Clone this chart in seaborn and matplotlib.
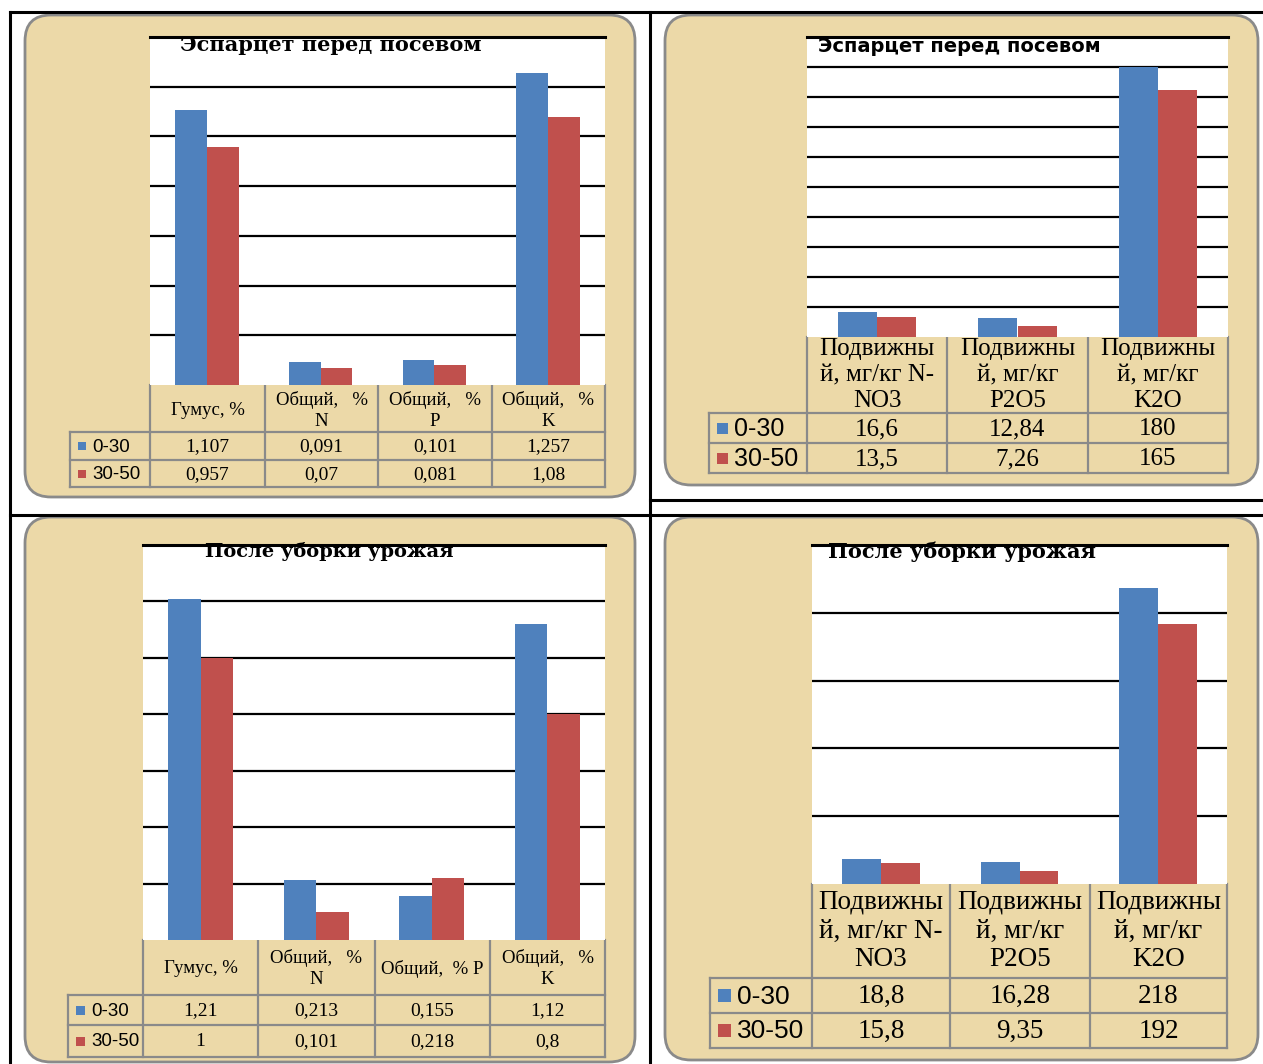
"""
Four Excel-style bar charts with data tables (soil nutrients, sainfoin
before sowing / after harvest), laid out as a 2x2 table on papyrus cards.
"""

import matplotlib

matplotlib.use("Agg")
import matplotlib.pyplot as plt
import numpy as np
import pandas as pd
import seaborn as sns
from matplotlib.patches import FancyBboxPatch, Rectangle

W, H = 1263, 1064

# --- data ---
DEPTHS = ["0-30", "30-50"]
COLORS = {"0-30": "#4F81BD", "30-50": "#C0504D"}

TITLE_BEFORE = "Эспарцет перед посевом"
TITLE_AFTER = "После уборки урожая"

total_cats_a = ["Гумус, %", "Общий,   %\nN", "Общий,   %\nP", "Общий,   %\nK"]
total_a_030 = [1.107, 0.091, 0.101, 1.257]
total_a_3050 = [0.957, 0.07, 0.081, 1.08]

mobile_cats = ["Подвижны\nй, мг/кг N-\nNO3", "Подвижны\nй, мг/кг\nP2O5",
               "Подвижны\nй, мг/кг\nK2O"]
mobile_b_030 = [16.6, 12.84, 180]
mobile_b_3050 = [13.5, 7.26, 165]

total_cats_c = ["Гумус, %", "Общий,   %\nN", "Общий,  % P", "Общий,   %\nK"]
total_c_030 = [1.21, 0.213, 0.155, 1.12]
total_c_3050 = [1, 0.101, 0.218, 0.8]

mobile_d_030 = [18.8, 16.28, 218]
mobile_d_3050 = [15.8, 9.35, 192]

PAPYRUS = "#ECD9A8"
GRID_GRAY = "#8a8a8a"


def fmt(v):
    return str(v).replace(".", ",")


def px_axes(fig, x0, y0, x1, y1):
    return fig.add_axes([x0 / W, 1 - y1 / H, (x1 - x0) / W, (y1 - y0) / H])


def panel(fig, bg, p):
    # card
    x0, y0, x1, y1 = p["card"]
    bg.add_patch(FancyBboxPatch((x0, y0), x1 - x0, y1 - y0,
                                boxstyle="round,pad=0,rounding_size=26",
                                facecolor=PAPYRUS, edgecolor=GRID_GRAY, lw=2))

    # bars
    px0, py0, px1, py1 = p["plot"]
    ax = px_axes(fig, px0, py0, px1, py1)
    n = len(p["cats"])
    df = pd.DataFrame({
        "cat": p["cats"] * 2,
        "depth": [DEPTHS[0]] * n + [DEPTHS[1]] * n,
        "value": p["v030"] + p["v3050"],
    })
    sns.barplot(data=df, x="cat", y="value", hue="depth", order=p["cats"],
                hue_order=DEPTHS, palette=COLORS, width=0.56, saturation=1,
                errorbar=None, linewidth=0, legend=False, ax=ax)
    ax.set_facecolor("white")
    ax.set_xlim(-0.5, n - 0.5)
    ax.set_ylim(0, p["ymax"])
    ax.set_yticks(np.arange(p["step"], p["ymax"] - p["step"] / 2, p["step"]))
    ax.yaxis.grid(True, color="black", lw=1.6)
    ax.axhline(p["ymax"], color="black", lw=2.2, clip_on=False)
    ax.set_axisbelow(True)
    ax.tick_params(length=0, labelbottom=False, labelleft=False)
    ax.set_xlabel("")
    ax.set_ylabel("")
    for s in ax.spines.values():
        s.set_visible(False)

    # title
    fig.text(p["title_xy"][0] / W, 1 - p["title_xy"][1] / H, p["title"],
             ha="left", va="top", fontsize=p["title_size"], fontweight="bold",
             family=p["title_family"])

    # data table
    lx = p["legend_x"]
    rows = p["rows"]  # header top, row1 top, row2 top, bottom
    edges = p["col_edges"]
    kw = dict(color=GRID_GRAY, lw=1.6)
    for x in edges:
        bg.plot([x, x], [rows[0], rows[3]], **kw)
    bg.plot([lx, lx], [rows[1], rows[3]], **kw)
    for y in rows[1:]:
        bg.plot([lx, edges[-1]], [y, y], **kw)

    fs = p["table_size"]
    for i, cat in enumerate(p["cats"]):
        cx = (edges[i] + edges[i + 1]) / 2
        bg.text(cx, (rows[0] + rows[1]) / 2 + p["head_dy"], cat, ha="center",
                va="center", fontsize=p["head_size"], family="Liberation Serif",
                linespacing=p["head_ls"])
        for r, vals in enumerate([p["v030"], p["v3050"]]):
            bg.text(cx, (rows[r + 1] + rows[r + 2]) / 2 + 1, fmt(vals[i]),
                    ha="center", va="center", fontsize=fs,
                    family="Liberation Serif")
    sq = p["sq"]
    for r, d in enumerate(DEPTHS):
        cy = (rows[r + 1] + rows[r + 2]) / 2
        bg.add_patch(Rectangle((lx + 8, cy - sq / 2), sq, sq,
                               facecolor=COLORS[d], lw=0))
        bg.text(lx + 14 + sq, cy + 1, d, ha="left", va="center",
                fontsize=p["leg_size"], family="Liberation Sans")


def main():
    fig = plt.figure(figsize=(W / 100, H / 100), dpi=100)
    fig.patch.set_facecolor("white")
    bg = fig.add_axes([0, 0, 1, 1])
    bg.set_xlim(0, W)
    bg.set_ylim(H, 0)
    bg.axis("off")

    # outer table lines
    line = dict(color="black", lw=2.2)
    bg.plot([10, W], [12, 12], **line)
    bg.plot([10, 10], [12, H], **line)
    bg.plot([650, 650], [12, H], **line)
    bg.plot([10, W], [515, 515], **line)
    bg.plot([650, W], [500, 500], **line)

    panels = [
        dict(card=(25, 15, 635, 497), plot=(150, 37, 605, 385),
             cats=total_cats_a, v030=total_a_030, v3050=total_a_3050,
             ymax=1.4, step=0.2, title=TITLE_BEFORE, title_xy=(180, 35),
             title_size=15, title_family="DejaVu Serif",
             legend_x=70, rows=(385, 432, 460, 487),
             col_edges=(150, 265, 378, 492, 605),
             table_size=14, head_size=13.5, head_ls=1.3, head_dy=2,
             leg_size=13.5, sq=8),
        dict(card=(665, 15, 1258, 485), plot=(807, 37, 1228, 337),
             cats=mobile_cats, v030=mobile_b_030, v3050=mobile_b_3050,
             ymax=200, step=20, title=TITLE_BEFORE, title_xy=(818, 37),
             title_size=14, title_family="DejaVu Sans",
             legend_x=709, rows=(337, 413, 443, 473),
             col_edges=(807, 947, 1088, 1228),
             table_size=18, head_size=18, head_ls=1.22, head_dy=0,
             leg_size=18, sq=11),
        dict(card=(25, 517, 635, 1062), plot=(143, 545, 605, 940),
             cats=total_cats_c, v030=total_c_030, v3050=total_c_3050,
             ymax=1.4, step=0.2, title=TITLE_AFTER, title_xy=(205, 542),
             title_size=14, title_family="DejaVu Serif",
             legend_x=68, rows=(940, 995, 1025, 1057),
             col_edges=(143, 258, 375, 490, 605),
             table_size=14, head_size=13.5, head_ls=1.3, head_dy=1,
             leg_size=13.5, sq=9),
        dict(card=(665, 517, 1258, 1060), plot=(812, 545, 1227, 884),
             cats=mobile_cats, v030=mobile_d_030, v3050=mobile_d_3050,
             ymax=250, step=50, title=TITLE_AFTER, title_xy=(828, 541),
             title_size=15, title_family="DejaVu Serif",
             legend_x=710, rows=(884, 978, 1013, 1048),
             col_edges=(812, 950, 1090, 1227),
             table_size=19.5, head_size=19.5, head_ls=1.2, head_dy=0,
             leg_size=19, sq=13),
    ]
    for p in panels:
        panel(fig, bg, p)

    fig.savefig("out.png", dpi=100, facecolor="white")
    plt.close(fig)


if __name__ == "__main__":
    main()
